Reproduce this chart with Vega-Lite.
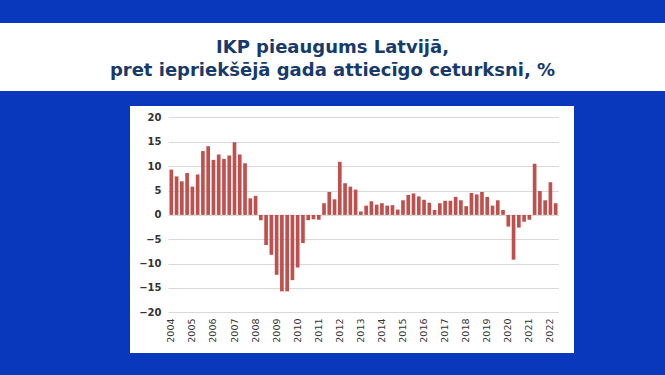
{
  "$schema": "https://vega.github.io/schema/vega-lite/v6.json",
  "background": "#0a38bd",
  "padding": {"left": 0, "top": 23, "right": 0, "bottom": 22},
  "config": {"view": {"stroke": null}},
  "datasets": {
    "gdp": [
      {"q": "2004 Q1", "v": 9.3}, {"q": "2004 Q2", "v": 7.9}, {"q": "2004 Q3", "v": 6.9}, {"q": "2004 Q4", "v": 8.6},
      {"q": "2005 Q1", "v": 5.8}, {"q": "2005 Q2", "v": 8.3}, {"q": "2005 Q3", "v": 13.1}, {"q": "2005 Q4", "v": 14.1},
      {"q": "2006 Q1", "v": 11.3}, {"q": "2006 Q2", "v": 12.4}, {"q": "2006 Q3", "v": 11.5}, {"q": "2006 Q4", "v": 12.2},
      {"q": "2007 Q1", "v": 14.9}, {"q": "2007 Q2", "v": 12.4}, {"q": "2007 Q3", "v": 10.6}, {"q": "2007 Q4", "v": 3.4},
      {"q": "2008 Q1", "v": 3.9}, {"q": "2008 Q2", "v": -1.1}, {"q": "2008 Q3", "v": -6.2}, {"q": "2008 Q4", "v": -8.2},
      {"q": "2009 Q1", "v": -12.3}, {"q": "2009 Q2", "v": -15.7}, {"q": "2009 Q3", "v": -15.7}, {"q": "2009 Q4", "v": -13.4},
      {"q": "2010 Q1", "v": -10.8}, {"q": "2010 Q2", "v": -5.8}, {"q": "2010 Q3", "v": -1.1}, {"q": "2010 Q4", "v": -0.9},
      {"q": "2011 Q1", "v": -1.0}, {"q": "2011 Q2", "v": 2.4}, {"q": "2011 Q3", "v": 4.7}, {"q": "2011 Q4", "v": 3.2},
      {"q": "2012 Q1", "v": 10.9}, {"q": "2012 Q2", "v": 6.5}, {"q": "2012 Q3", "v": 5.8}, {"q": "2012 Q4", "v": 5.2},
      {"q": "2013 Q1", "v": 0.7}, {"q": "2013 Q2", "v": 1.9}, {"q": "2013 Q3", "v": 2.8}, {"q": "2013 Q4", "v": 2.1},
      {"q": "2014 Q1", "v": 2.4}, {"q": "2014 Q2", "v": 1.9}, {"q": "2014 Q3", "v": 2.0}, {"q": "2014 Q4", "v": 1.1},
      {"q": "2015 Q1", "v": 3.0}, {"q": "2015 Q2", "v": 4.1}, {"q": "2015 Q3", "v": 4.4}, {"q": "2015 Q4", "v": 3.8},
      {"q": "2016 Q1", "v": 3.1}, {"q": "2016 Q2", "v": 2.5}, {"q": "2016 Q3", "v": 1.0}, {"q": "2016 Q4", "v": 2.4},
      {"q": "2017 Q1", "v": 2.9}, {"q": "2017 Q2", "v": 2.9}, {"q": "2017 Q3", "v": 3.7}, {"q": "2017 Q4", "v": 3.0},
      {"q": "2018 Q1", "v": 1.8}, {"q": "2018 Q2", "v": 4.5}, {"q": "2018 Q3", "v": 4.2}, {"q": "2018 Q4", "v": 4.7},
      {"q": "2019 Q1", "v": 3.7}, {"q": "2019 Q2", "v": 1.9}, {"q": "2019 Q3", "v": 3.0}, {"q": "2019 Q4", "v": 1.0},
      {"q": "2020 Q1", "v": -2.4}, {"q": "2020 Q2", "v": -9.2}, {"q": "2020 Q3", "v": -2.6}, {"q": "2020 Q4", "v": -1.4},
      {"q": "2021 Q1", "v": -1.0}, {"q": "2021 Q2", "v": 10.5}, {"q": "2021 Q3", "v": 4.9}, {"q": "2021 Q4", "v": 3.0},
      {"q": "2022 Q1", "v": 6.7}, {"q": "2022 Q2", "v": 2.4}
    ],
    "ticks": [
      {"g": -20}, {"g": -15}, {"g": -10}, {"g": -5}, {"g": 0}, {"g": 5}, {"g": 10}, {"g": 15}, {"g": 20}
    ],
    "title": [
      {"t": ["IKP pieaugums Latvijā,", "pret iepriekšējā gada attiecīgo ceturksni, %"]}
    ]
  },
  "vconcat": [
    {
      "width": 665,
      "height": 68,
      "view": {"fill": "white", "stroke": null},
      "data": {"name": "title"},
      "mark": {"type": "text", "font": "DejaVu Sans", "fontWeight": "bold", "fontSize": 18, "color": "#173a6b", "lineHeight": 23, "baseline": "middle", "align": "center", "dy": -9},
      "encoding": {"text": {"field": "t", "type": "nominal"}}
    },
    {
      "spacing": 0,
      "bounds": "flush",
      "hconcat": [
        {
          "width": 130,
          "height": 247,
          "view": {"fill": null, "stroke": null},
          "data": {"values": []},
          "mark": "point",
          "encoding": {}
        },
        {
          "width": 38,
          "height": 247,
          "view": {"fill": "white", "stroke": null},
          "data": {"name": "ticks"},
          "mark": {"type": "point", "opacity": 0},
          "encoding": {
            "y": {
              "field": "g",
              "type": "quantitative",
              "scale": {"domain": [-28.36, 22.36], "nice": false, "zero": false},
              "axis": {
                "title": null,
                "orient": "left",
                "offset": -33,
                "labelPadding": 2,
                "ticks": false,
                "domain": false,
                "grid": false,
                "labelOverlap": false,
                "values": [-20, -15, -10, -5, 0, 5, 10, 15, 20],
                "labelFont": "DejaVu Sans",
                "labelFontWeight": "bold",
                "labelFontSize": 10,
                "labelColor": "#333333"
              }
            }
          }
        },
        {
          "width": 391,
          "height": 247,
          "view": {"fill": "white", "stroke": null},
          "data": {"name": "gdp"},
          "mark": {"type": "bar", "color": "#c0504d"},
          "encoding": {
            "x": {
              "field": "q",
              "type": "ordinal",
              "scale": {"type": "band", "paddingInner": 0.3, "paddingOuter": 0.28},
              "axis": {
                "title": null,
                "orient": "bottom",
                "offset": -37,
                "labelPadding": 2,
                "ticks": false,
                "domain": false,
                "grid": false,
                "labelAngle": -90,
                "labelOverlap": false,
                "labelBound": false,
                "labelFont": "DejaVu Sans",
                "labelFontSize": 9.5,
                "labelColor": "#333333",
                "labelExpr": "indexof(datum.value, 'Q1') > 0 ? slice(datum.value, 0, 4) : ''"
              }
            },
            "y": {
              "field": "v",
              "type": "quantitative",
              "scale": {"domain": [-28.36, 22.36], "nice": false, "zero": false},
              "axis": {
                "title": null,
                "orient": "left",
                "labels": false,
                "ticks": false,
                "domain": false,
                "grid": true,
                "gridColor": "#d9d9d9",
                "gridWidth": 1,
                "values": [-20, -15, -10, -5, 0, 5, 10, 15, 20]
              }
            }
          }
        },
        {
          "width": 15,
          "height": 247,
          "view": {"fill": "white", "stroke": null},
          "data": {"values": []},
          "mark": "point",
          "encoding": {}
        }
      ]
    }
  ],
  "spacing": 15
}
